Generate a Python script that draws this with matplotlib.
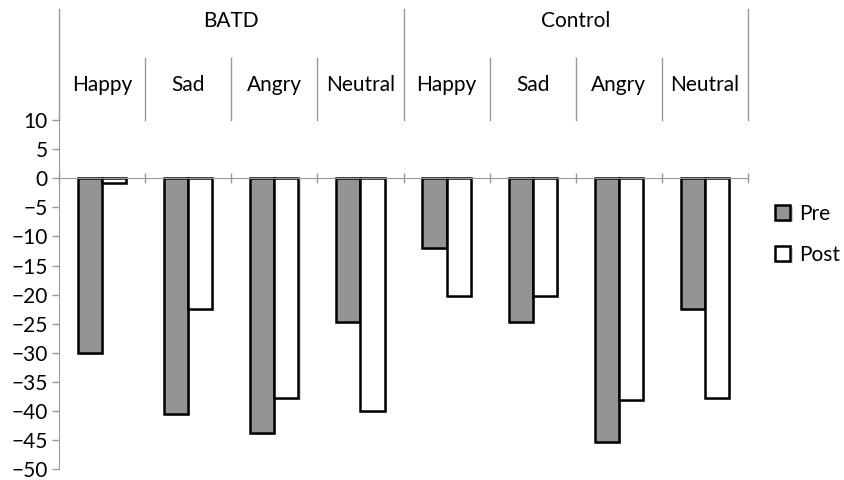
import matplotlib.pyplot as plt
import matplotlib.patheffects as pe
import matplotlib.transforms as mtransforms
import numpy as np

plt.rcParams['font.family'] = ['Lato', 'DejaVu Sans']

groups = ['BATD', 'Control']
emotions = ['Happy', 'Sad', 'Angry', 'Neutral']
pre = [-30, -40.5, -43.7, -24.7, -12, -24.7, -45.3, -22.5]
post = [-0.8, -22.5, -37.7, -40, -20.2, -20.2, -38, -37.7]

fig = plt.figure(figsize=(8.44, 4.8), dpi=100)
ax = fig.add_axes([0.0699, 0.022, 0.8164, 0.728])

x = np.arange(len(pre))
w = 0.28
shadow = [pe.SimplePatchShadow(offset=(1.5, -1.5), alpha=0.25), pe.Normal()]
b1 = ax.bar(x - w / 2, pre, w, color='#949494', edgecolor='black', linewidth=1.8,
            label='Pre', path_effects=shadow)
b2 = ax.bar(x + w / 2, post, w, color='white', edgecolor='black', linewidth=1.8,
            label='Post', path_effects=shadow)

ax.set_xlim(-0.5, 7.5)
ax.set_ylim(-50, 10)
ax.set_yticks(np.arange(-50, 11, 5))
ax.tick_params(axis='y', labelsize=15, length=5, color='#999999', width=1, pad=3)

for s in ['top', 'right']:
    ax.spines[s].set_visible(False)
ax.spines['left'].set_color('#999999')
ax.spines['bottom'].set_color('#999999')
ax.spines['bottom'].set_position(('data', 0))
ax.set_xticks(np.arange(-0.5, 8, 1))
ax.set_xticklabels([])
ax.tick_params(axis='x', direction='inout', length=7, color='#999999', width=1)

# header with category labels
trans = mtransforms.blended_transform_factory(ax.transData, ax.transAxes)
for i in range(1, 8):
    if i == 4:
        continue
    ax.plot([i - 0.5, i - 0.5], [1.0, 1.178], color='#999999', lw=1,
            transform=trans, clip_on=False)
for xv in [-0.5, 3.5, 7.5]:
    ax.plot([xv, xv], [1.0, 1.317], color='#999999', lw=1,
            transform=trans, clip_on=False)
for i in range(8):
    ax.text(i, 1.10, emotions[i % 4], ha='center', va='center', fontsize=15,
            transform=trans)
for g, name in enumerate(groups):
    ax.text(g * 4 + 1.5, 1.282, name, ha='center', va='center', fontsize=15,
            transform=trans)

fig.legend(handles=[b1, b2], loc='upper left', bbox_to_anchor=(0.918, 0.575),
           frameon=False, fontsize=15, handlelength=0.75, handleheight=0.75,
           handletextpad=0.4, labelspacing=1.0, borderpad=0, borderaxespad=0)

fig.savefig('out.png', dpi=100)
